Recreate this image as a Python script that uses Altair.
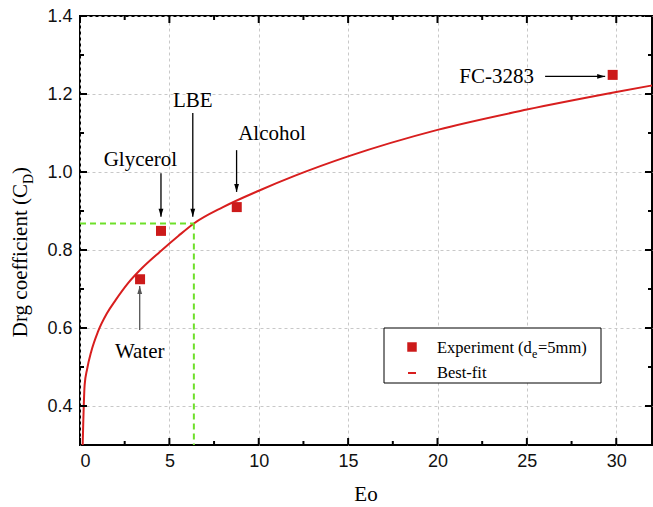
import altair as alt
import pandas as pd

# Measured drag coefficients (d_e = 5 mm)
fluids = ["Water", "Glycerol", "Alcohol", "FC-3283"]
exp_eo = [3.36, 4.53, 8.77, 29.8]
exp_cd = [0.725, 0.849, 0.91, 1.249]

# Best-fit curve, sampled along Eo
fit_eo = [0.15, 0.26, 0.4, 0.63, 1.0, 1.5, 2.0, 2.69, 3.5, 4.46, 5.5, 6.37,
          8.0, 10.0, 12.0, 15.0, 20.0, 25.0, 30.0, 32.0]
fit_cd = [0.30, 0.454, 0.495, 0.54, 0.59, 0.637, 0.672, 0.715, 0.755, 0.795,
          0.836, 0.868, 0.910, 0.952, 0.99, 1.04, 1.108, 1.160, 1.205, 1.222]

# Annotation labels and their arrows (tail -> head)
label_text = ["Water", "Glycerol", "LBE", "Alcohol", "FC-3283"]
label_eo = [3.34, 3.38, 6.31, 10.74, 23.31]
label_cd = [0.523, 1.015, 1.167, 1.082, 1.228]
arrow_eo0 = [3.34, 4.53, 6.31, 8.76, 26.02]
arrow_cd0 = [0.595, 0.997, 1.151, 1.056, 1.245]
arrow_eo1 = [3.34, 4.53, 6.31, 8.76, 29.38]
arrow_cd1 = [0.708, 0.885, 0.885, 0.949, 1.245]
arrow_dir = [180, 0, 0, 0, 270]
arrow_color = ["#555555", "#000000", "#000000", "#000000", "#000000"]

# LBE
lbe_eo = 6.37
lbe_cd = 0.868

# Axis ticks
x_major = [0, 5, 10, 15, 20, 25, 30]
x_minor = [2.5, 7.5, 12.5, 17.5, 22.5, 27.5]
y_major = [0.4, 0.6, 0.8, 1.0, 1.2, 1.4]
y_minor = [0.5, 0.7, 0.9, 1.1, 1.3]

W, H = 572, 429
RED_LINE = "#d81e1e"
RED_MARK = "#cc1a1a"
GREEN = "#6ee02a"
SERIF = "Liberation Serif"
SANS = "Liberation Sans"

xs = alt.Scale(domain=[0, 32], nice=False, zero=False)
ys = alt.Scale(domain=[0.3, 1.4], nice=False, zero=False)

x_axis = alt.Axis(values=x_major, format="d", title=None, grid=True, ticks=False,
                  domain=False, labelFont=SANS, labelFontSize=18, labelColor="#111111",
                  labelPadding=7, gridColor="#c8c8c8", gridDash=[3, 3], gridWidth=1)
y_axis = alt.Axis(values=y_major, format=".1f", title=None, grid=True, ticks=False,
                  domain=False, labelFont=SANS, labelFontSize=18, labelColor="#111111",
                  labelPadding=8, gridColor="#c8c8c8", gridDash=[3, 3], gridWidth=1)


def X(field):
    return alt.X(field, type="quantitative", scale=xs, axis=x_axis)


def Y(field):
    return alt.Y(field, type="quantitative", scale=ys, axis=y_axis)


one = pd.DataFrame({"k": [0]})
exp_df = pd.DataFrame({"fluid": fluids, "eo": exp_eo, "cd": exp_cd})
fit_df = pd.DataFrame({"eo": fit_eo, "cd": fit_cd})
ann_df = pd.DataFrame({
    "label": label_text, "lx": label_eo, "ly": label_cd,
    "x0": arrow_eo0, "y0": arrow_cd0, "x1": arrow_eo1, "y1": arrow_cd1,
    "dir": arrow_dir, "col": arrow_color,
})
guide_h = pd.DataFrame({"x0": [0.0], "x1": [lbe_eo], "y0": [lbe_cd], "y1": [lbe_cd]})
guide_v = pd.DataFrame({"x0": [lbe_eo], "x1": [lbe_eo], "y0": [lbe_cd], "y1": [0.3]})

fit = alt.Chart(fit_df).mark_line(color=RED_LINE, strokeWidth=2, interpolate="monotone").encode(
    x=X("eo"), y=Y("cd"))

green_h = alt.Chart(guide_h).mark_rule(color=GREEN, strokeWidth=2, strokeDash=[6, 4]).encode(
    x=X("x0"), x2="x1", y=Y("y0"), y2="y1")
green_v = alt.Chart(guide_v).mark_rule(color=GREEN, strokeWidth=2, strokeDash=[6, 4]).encode(
    x=X("x0"), x2="x1", y=Y("y0"), y2="y1")

points = alt.Chart(exp_df).mark_point(shape="square", filled=True, size=100, opacity=1,
                                      color=RED_MARK).encode(x=X("eo"), y=Y("cd"))

shafts = alt.Chart(ann_df).mark_rule(strokeWidth=1.3).encode(
    x=X("x0"), x2="x1", y=Y("y0"), y2="y1", color=alt.Color("col:N", scale=None))

heads = alt.Chart(ann_df).mark_point(shape="M0,0L-0.6,-2L0.6,-2Z", filled=True, size=64,
                                     opacity=1, strokeWidth=0).encode(
    x=X("x1"), y=Y("y1"), angle=alt.Angle("dir:Q", scale=None),
    color=alt.Color("col:N", scale=None))

labels = alt.Chart(ann_df).mark_text(font=SERIF, fontSize=21, color="black", align="center",
                                     baseline="alphabetic").encode(
    x=X("lx"), y=Y("ly"), text="label:N")


# Tick marks on all four sides, pointing inward
def tick_layer(values, axis, length, side):
    df = pd.DataFrame({"v": values})
    base = alt.Chart(df).mark_rule(color="black", strokeWidth=2)
    if axis == "x":
        if side == "bottom":
            return base.encode(x=X("v"), y=alt.value(H), y2=alt.value(H - length))
        return base.encode(x=X("v"), y=alt.value(0), y2=alt.value(length))
    if side == "left":
        return base.encode(y=Y("v"), x=alt.value(0), x2=alt.value(length))
    return base.encode(y=Y("v"), x=alt.value(W), x2=alt.value(W - length))


ticks = [
    tick_layer(x_major, "x", 7, "bottom"), tick_layer(x_minor, "x", 4, "bottom"),
    tick_layer(x_major, "x", 7, "top"), tick_layer(x_minor, "x", 4, "top"),
    tick_layer(y_major, "y", 7, "left"), tick_layer(y_minor, "y", 4, "left"),
    tick_layer(y_major, "y", 7, "right"), tick_layer(y_minor, "y", 4, "right"),
]


# Axis titles
def text_at(txt, x, y, size, align="left", angle=0, baseline="alphabetic"):
    kw = dict(font=SERIF, fontSize=size, color="black", align=align, baseline=baseline)
    if angle:
        kw["angle"] = angle
    return alt.Chart(one).mark_text(text=txt, **kw).encode(x=alt.value(x), y=alt.value(y))


x_title = text_at("Eo", W / 2, 485, 21, align="center")
y_title = [
    text_at("Drg coefficient (C", -53, 168, 21, align="right", angle=270),
    text_at("D", -47, 168, 14, align="left", angle=270),
    text_at(")", -53, 158, 21, align="left", angle=270),
]

# Legend box
legend_box = alt.Chart(one).mark_rect(fill="white", stroke="black", strokeWidth=1).encode(
    x=alt.value(304), x2=alt.value(521), y=alt.value(312), y2=alt.value(367))
legend_sq = alt.Chart(one).mark_point(shape="square", filled=True, size=90, opacity=1,
                                      color=RED_MARK).encode(x=alt.value(332), y=alt.value(331))
legend_dash = alt.Chart(one).mark_rule(color=RED_LINE, strokeWidth=2).encode(
    x=alt.value(328), x2=alt.value(336), y=alt.value(357))
legend_text = [
    text_at("Experiment (d", 357, 337, 16.5),
    text_at("e", 452, 342, 12),
    text_at("=5mm)", 458, 337, 16.5),
    text_at("Best-fit", 357, 362, 16.5),
]

chart = alt.layer(
    fit, green_h, green_v, shafts, heads, points, labels, *ticks,
    x_title, *y_title, legend_box, legend_sq, legend_dash, *legend_text,
).properties(
    width=W, height=H,
    autosize=alt.AutoSizeParams(type="none"),
    padding={"left": 80, "top": 16, "right": 1, "bottom": 62},
    background="white",
).configure_view(stroke="black", strokeWidth=2)

chart.save("out.html", embed_options={"renderer": "svg", "actions": False})
